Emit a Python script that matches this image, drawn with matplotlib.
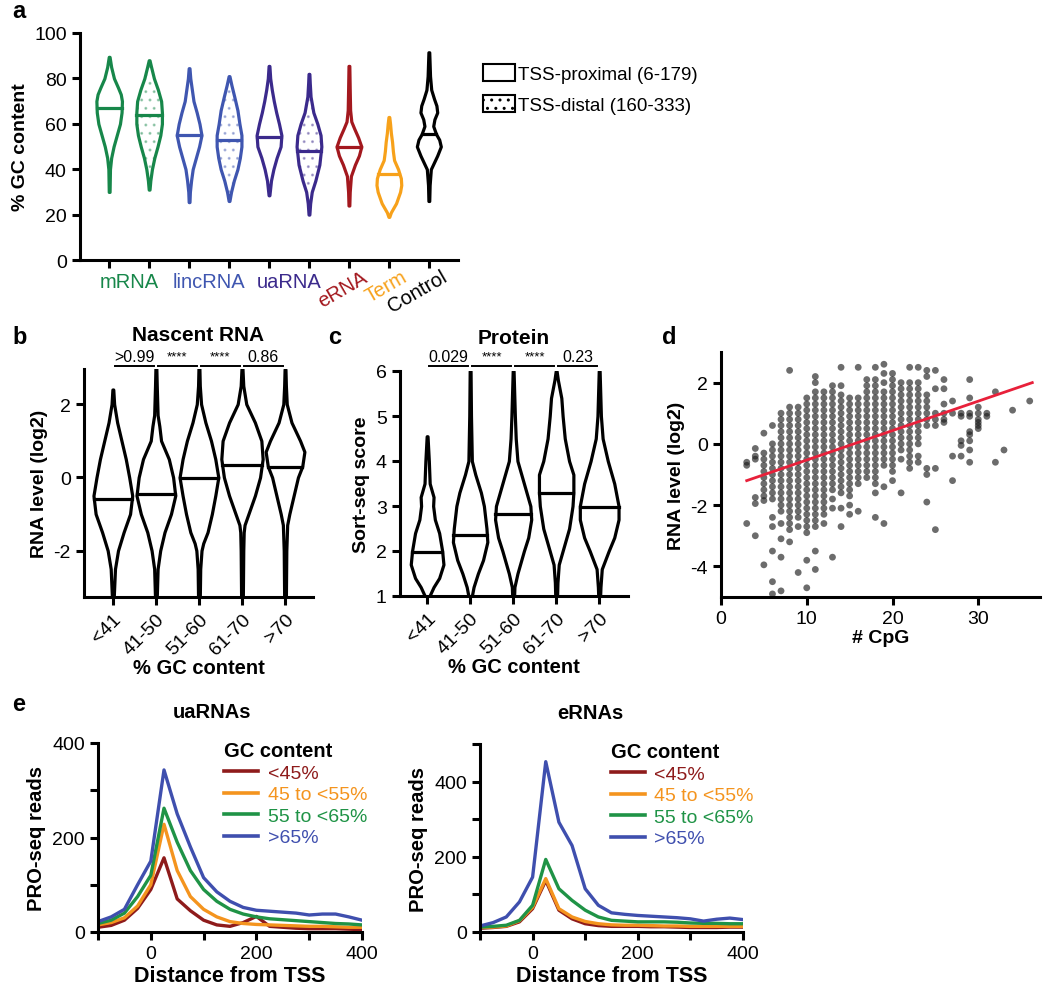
import matplotlib
matplotlib.use("Agg")
import matplotlib.pyplot as plt
import numpy as np
from matplotlib.patches import Patch

plt.rcParams['font.family'] = ['Liberation Sans', 'DejaVu Sans']
plt.rcParams['font.size'] = 13
plt.rcParams['axes.unicode_minus'] = False
plt.rcParams['axes.linewidth'] = 2.2
plt.rcParams['xtick.major.width'] = 2.2
plt.rcParams['ytick.major.width'] = 2.2
plt.rcParams['xtick.major.size'] = 6
plt.rcParams['ytick.major.size'] = 6
plt.rcParams['hatch.linewidth'] = 1.0

# ---------- panel a: GC content violins ----------
a_groups = ['mRNA', 'lincRNA', 'uaRNA', 'eRNA', 'Term', 'Control']
a_group_colors = ['#17874a', '#3f56b0', '#3b2a8c', '#a3181e', '#f7a11a', '#000000']
a_violin_group = [0, 0, 1, 1, 2, 2, 3, 4, 5]
a_distal = [False, True, False, True, False, True, False, False, False]
a_medians = [67, 64, 55, 53, 54, 48, 50, 38, 55.5]
a_prof_y = [
    [30, 40, 45, 50, 55, 60, 65, 70, 73, 76, 80, 85, 89.5],
    [31, 35, 40, 45, 50, 55, 60, 65, 70, 75, 80, 85, 88],
    [25.5, 30, 35, 40, 45, 50, 55, 60, 65, 70, 75, 80, 84.5],
    [26, 30, 35, 40, 45, 50, 55, 60, 66, 72, 77, 81],
    [28.5, 35, 40, 45, 50, 55, 60, 65, 70, 75, 80, 85.5],
    [20, 25, 30, 35, 42, 50, 55, 60, 65, 72, 78, 82],
    [24, 30, 37, 42, 46, 50, 54, 58, 61, 66, 75, 85.5],
    [19, 21, 25, 30, 33, 36, 40, 44, 48, 52, 56, 60, 63],
    [26, 33, 40, 43, 46, 50, 53, 55.5, 59, 62, 65, 68, 71, 75, 81, 91.5],
]
a_prof_w = [
    [0.01, 0.02, 0.05, 0.11, 0.19, 0.27, 0.31, 0.32, 0.29, 0.22, 0.12, 0.05, 0.01],
    [0.01, 0.03, 0.07, 0.13, 0.21, 0.28, 0.32, 0.32, 0.30, 0.22, 0.12, 0.05, 0.01],
    [0.01, 0.02, 0.05, 0.09, 0.17, 0.25, 0.31, 0.26, 0.19, 0.11, 0.07, 0.03, 0.01],
    [0.01, 0.05, 0.12, 0.21, 0.27, 0.31, 0.31, 0.26, 0.21, 0.13, 0.06, 0.01],
    [0.01, 0.05, 0.11, 0.19, 0.29, 0.31, 0.25, 0.18, 0.12, 0.07, 0.03, 0.01],
    [0.01, 0.03, 0.07, 0.16, 0.26, 0.31, 0.29, 0.21, 0.11, 0.04, 0.02, 0.01],
    [0.01, 0.02, 0.05, 0.15, 0.25, 0.31, 0.23, 0.13, 0.06, 0.03, 0.02, 0.01],
    [0.01, 0.05, 0.18, 0.28, 0.31, 0.30, 0.23, 0.13, 0.10, 0.08, 0.05, 0.03, 0.01],
    [0.01, 0.02, 0.05, 0.13, 0.21, 0.30, 0.26, 0.18, 0.11, 0.14, 0.21, 0.19, 0.13, 0.06, 0.03, 0.01],
]

# ---------- panels b, c: violins by GC bin ----------
gc_bins = ['<41', '41-50', '51-60', '61-70', '>70']
b_medians = [-0.58, -0.45, -0.03, 0.35, 0.28]
b_prof_y = [
    [-3.3, -2.5, -2.0, -1.5, -1.0, -0.5, 0.0, 0.5, 1.0, 1.5, 2.0, 2.4],
    [-3.3, -2.5, -2.0, -1.5, -1.0, -0.5, 0.0, 0.5, 1.0, 1.4, 1.7, 2.5, 3.0],
    [-3.3, -2.5, -2.0, -1.8, -1.5, -1.0, -0.5, 0.0, 0.5, 1.0, 1.5, 2.0, 2.5, 3.0],
    [-3.3, -2.0, -1.5, -1.3, -1.0, -0.5, 0.0, 0.5, 1.0, 1.5, 2.0, 2.5, 3.0],
    [-3.3, -2.0, -1.3, -1.0, -0.5, 0.0, 0.3, 0.7, 1.0, 1.5, 2.0, 2.5, 2.95],
]
b_prof_w = [
    [0.02, 0.05, 0.12, 0.25, 0.40, 0.45, 0.38, 0.30, 0.20, 0.10, 0.03, 0.01],
    [0.02, 0.04, 0.10, 0.20, 0.35, 0.45, 0.40, 0.30, 0.12, 0.08, 0.04, 0.02, 0.01],
    [0.02, 0.03, 0.06, 0.10, 0.20, 0.30, 0.38, 0.45, 0.38, 0.28, 0.15, 0.05, 0.02, 0.01],
    [0.02, 0.03, 0.04, 0.06, 0.15, 0.30, 0.42, 0.48, 0.45, 0.30, 0.10, 0.03, 0.01],
    [0.02, 0.03, 0.05, 0.10, 0.20, 0.30, 0.40, 0.45, 0.35, 0.15, 0.04, 0.02, 0.01],
]
b_pvals = ['>0.99', '****', '****', '0.86']

c_medians = [1.98, 2.35, 2.83, 3.3, 2.98]
c_prof_y = [
    [0.95, 1.2, 1.4, 1.7, 2.0, 2.4, 2.7, 3.0, 3.2, 3.5, 4.0, 4.55],
    [0.95, 1.2, 1.5, 1.8, 2.2, 2.5, 3.0, 3.3, 3.7, 4.0, 5.0, 6.0],
    [0.95, 1.2, 1.5, 2.0, 2.3, 2.7, 3.0, 3.5, 4.0, 4.5, 5.0, 6.0],
    [0.95, 1.3, 1.7, 2.0, 2.5, 3.0, 3.3, 3.7, 4.0, 4.5, 5.0, 5.4, 5.8, 6.0],
    [0.95, 1.2, 1.6, 2.0, 2.3, 2.7, 3.0, 3.5, 4.0, 4.5, 5.0, 6.0],
]
c_prof_w = [
    [0.03, 0.15, 0.28, 0.38, 0.35, 0.28, 0.18, 0.14, 0.15, 0.06, 0.04, 0.01],
    [0.03, 0.08, 0.18, 0.30, 0.40, 0.38, 0.32, 0.25, 0.12, 0.04, 0.02, 0.01],
    [0.02, 0.03, 0.10, 0.25, 0.35, 0.42, 0.40, 0.25, 0.10, 0.06, 0.04, 0.01],
    [0.02, 0.03, 0.06, 0.15, 0.30, 0.38, 0.40, 0.40, 0.30, 0.20, 0.15, 0.12, 0.04, 0.01],
    [0.02, 0.03, 0.06, 0.22, 0.35, 0.45, 0.45, 0.35, 0.20, 0.08, 0.04, 0.01],
]
c_pvals = ['0.029', '****', '****', '0.23']

# ---------- panel d: RNA level vs # CpG ----------
rna_by_cpg = {
    3: [-0.6, -0.7, -2.6],
    4: [-0.15, -0.4, -0.5, -1.75, -1.95, -3.0],
    5: [0.35, -0.3, -0.5, -0.7, -0.9, -1.1, -1.3, -1.5, -1.7, -1.85, -3.95],
    6: [0.6, 0.0, -0.2, -0.4, -0.6, -0.8, -1.0, -1.2, -1.4, -1.6, -1.8, -2.4, -2.7, -3.5, -4.5, -4.9],
    7: [1.0, 0.8, 0.6, 0.4, 0.2, 0.0, -0.2, -0.4, -0.6, -0.8, -1.0, -1.2, -1.4, -1.6, -1.8, -2.0, -2.2,
        -2.6, -3.1, -3.7, -4.8],
    8: [2.4, 1.2, 1.0, 0.8, 0.6, 0.4, 0.2, 0.0, -0.2, -0.4, -0.6, -0.8, -1.0, -1.2, -1.4, -1.6, -1.8,
        -2.0, -2.2, -2.4, -2.6, -2.8, -3.2],
    9: [1.2, 1.0, 0.8, 0.6, 0.4, 0.2, 0.0, -0.2, -0.4, -0.6, -0.8, -1.0, -1.2, -1.4, -1.6, -1.8, -2.0,
        -2.2, -2.4, -2.7, -4.2],
    10: [1.5, 1.3, 1.1, 0.9, 0.7, 0.5, 0.3, 0.1, -0.1, -0.3, -0.5, -0.7, -0.9, -1.1, -1.3, -1.5, -1.7,
         -1.9, -2.1, -2.3, -2.5, -2.7, -2.9, -3.8, -4.7],
    11: [2.2, 2.0, 1.7, 1.5, 1.3, 1.1, 0.9, 0.7, 0.5, 0.3, 0.1, -0.1, -0.3, -0.5, -0.7, -0.9, -1.1, -1.3,
         -1.5, -1.7, -1.9, -2.1, -2.3, -2.5, -2.7, -3.5, -4.1],
    12: [1.7, 1.5, 1.3, 1.1, 0.9, 0.7, 0.5, 0.3, 0.1, -0.1, -0.3, -0.5, -0.7, -0.9, -1.1, -1.3, -1.5,
         -1.7, -1.9, -2.1, -2.3, -2.6],
    13: [1.9, 1.7, 1.5, 1.3, 1.1, 0.9, 0.7, 0.5, 0.3, 0.1, -0.1, -0.3, -0.5, -0.7, -0.9, -1.1, -1.3,
         -1.5, -1.8, -2.1, -3.7],
    14: [2.5, 1.9, 1.6, 1.4, 1.2, 1.0, 0.8, 0.6, 0.4, 0.2, 0.0, -0.2, -0.4, -0.6, -0.8, -1.0, -1.2,
         -1.4, -1.6, -2.1, -2.7],
    15: [1.5, 1.3, 1.1, 0.9, 0.7, 0.5, 0.3, 0.1, -0.1, -0.3, -0.5, -0.7, -0.9, -1.1, -1.3, -1.5, -1.7,
         -2.0, -2.3],
    16: [2.5, 1.5, 1.3, 1.1, 0.9, 0.7, 0.5, 0.3, 0.1, -0.1, -0.3, -0.5, -0.7, -0.9, -1.1, -1.3, -2.2],
    17: [2.1, 1.9, 1.7, 1.5, 1.3, 1.1, 0.9, 0.7, 0.5, 0.3, 0.1, -0.1, -0.3, -0.5, -0.7, -0.9, -1.1],
    18: [2.5, 2.1, 1.9, 1.7, 1.5, 1.3, 1.1, 0.9, 0.7, 0.5, 0.3, 0.1, -0.1, -0.3, -0.5, -0.7, -0.9,
         -1.1, -1.3, -1.6, -2.4],
    19: [2.6, 2.3, 2.0, 1.7, 1.5, 1.3, 1.1, 0.9, 0.7, 0.5, 0.3, 0.1, -0.1, -0.3, -0.5, -0.7, -1.4, -2.6],
    20: [2.3, 2.1, 1.9, 1.7, 1.5, 1.3, 1.1, 0.9, 0.7, 0.5, 0.3, 0.1, -0.1, -0.3, -0.5, -0.7, -0.9, -1.2],
    21: [2.0, 1.8, 1.6, 1.4, 1.2, 1.0, 0.8, 0.6, 0.4, 0.2, 0.0, -0.2, -0.5, -1.6],
    22: [2.5, 2.0, 1.8, 1.6, 1.4, 1.2, 1.0, 0.8, 0.6, 0.4, 0.2, 0.0, -0.2, -0.4, -0.6, -0.8],
    23: [2.5, 2.0, 1.8, 1.6, 1.4, 1.2, 1.0, 0.8, 0.6, 0.4, 0.2, 0.0, -0.4, -0.6],
    24: [2.4, 2.2, 1.6, 1.4, 1.2, 1.0, 0.8, 0.6, -0.8, -1.0, -1.9],
    25: [2.4, 1.8, 1.0, 0.8, 0.6, -0.8, -2.8],
    26: [2.1, 1.8, 1.3, 1.0, 0.8, 0.7],
    27: [1.4, 1.0, -0.4, -1.2],
    28: [1.0, 0.9, 0.1, -0.05, -0.4],
    29: [2.1, 1.5, 1.0, 0.9, 0.4, 0.3, 0.1, -0.2, -0.6],
    30: [1.2, 1.0, 0.8, 0.7, 0.6, 0.5],
    31: [1.0, 0.9],
    32: [1.7, -0.6],
    33: [-0.2],
    34: [1.1],
    36: [1.4],
}
fit_x = [3, 36.3]
fit_y = [-1.2, 2.0]

# ---------- panel e: PRO-seq profiles ----------
dist = [-100, -75, -50, -25, 0, 25, 50, 75, 100, 125, 150, 175, 200, 225, 250, 275, 300, 325, 350, 375, 400]
gc_groups = ['<45%', '45 to <55%', '55 to <65%', '>65%']
gc_colors = ['#8e1b1b', '#f4941e', '#1f9346', '#3f4fae']
ua_reads = [
    [10, 14, 25, 50, 90, 157, 70, 45, 25, 15, 12, 20, 33, 12, 10, 8, 7, 7, 7, 6, 5],
    [15, 20, 30, 55, 100, 228, 130, 75, 48, 32, 22, 18, 16, 15, 14, 13, 12, 12, 11, 10, 10],
    [18, 25, 40, 75, 120, 262, 190, 130, 90, 65, 48, 38, 32, 28, 26, 24, 22, 20, 18, 17, 15],
    [22, 32, 48, 100, 150, 343, 250, 180, 115, 85, 65, 52, 46, 44, 42, 40, 36, 38, 38, 32, 25],
]
e_reads = [
    [10, 12, 15, 27, 62, 137, 58, 35, 22, 17, 15, 15, 15, 14, 14, 13, 12, 12, 12, 13, 13],
    [12, 13, 16, 30, 66, 142, 62, 40, 28, 22, 19, 18, 18, 17, 16, 16, 15, 15, 15, 15, 15],
    [13, 15, 18, 31, 71, 193, 115, 84, 58, 40, 31, 29, 27, 27, 27, 26, 24, 23, 23, 22, 22],
    [16, 25, 40, 80, 146, 453, 292, 230, 115, 71, 51, 47, 44, 42, 40, 38, 35, 29, 34, 37, 33],
]

W, H = 1050, 995
fig = plt.figure(figsize=(W / 100, H / 100), dpi=100)


def px_axes(left, top, right, bottom):
    return fig.add_axes([left / W, 1 - bottom / H, (right - left) / W, (bottom - top) / H])


def style(ax):
    ax.spines['top'].set_visible(False)
    ax.spines['right'].set_visible(False)


def draw_violin(ax, pos, ys, ws, med, color, distal=False, lw=2.3):
    ys = np.array(ys)
    ws = np.array(ws)
    ax.fill_betweenx(ys, pos - ws, pos + ws, facecolor='white', edgecolor=color, lw=lw, zorder=2)
    if distal:
        ax.fill_betweenx(ys, pos - ws, pos + ws, facecolor='none', edgecolor=color, alpha=0.35,
                         hatch='..', lw=0, zorder=2)
    mw = np.interp(med, ys, ws)
    ax.plot([pos - mw, pos + mw], [med, med], color=color, lw=lw, zorder=3)


# panel a
ax = px_axes(80, 34, 458, 261)
style(ax)
for i in range(9):
    col = a_group_colors[a_violin_group[i]]
    draw_violin(ax, i, a_prof_y[i], a_prof_w[i], a_medians[i], col, a_distal[i])
ax.set_xlim(-0.73, 8.73)
ax.set_ylim(0, 100)
ax.set_yticks([0, 20, 40, 60, 80, 100])
ax.tick_params(labelsize=14)
ax.set_xticks(range(9))
ax.set_xticklabels([])
ax.set_ylabel('% GC content', fontweight='bold', fontsize=14, labelpad=4)
for g, xpos in zip(range(3), [0.5, 2.5, 4.5]):
    ax.text(xpos, -0.055, a_groups[g], color=a_group_colors[g], ha='center', va='top',
            fontsize=14.5, transform=ax.get_xaxis_transform())
for g, xpos in zip(range(3, 6), [6, 7, 8]):
    ax.text(xpos + 0.3, -0.03, a_groups[g], color=a_group_colors[g], ha='right', va='top',
            fontsize=14.5, rotation=30, rotation_mode='anchor', transform=ax.get_xaxis_transform())
handles = [Patch(facecolor='white', edgecolor='black', lw=1.5),
           Patch(facecolor='white', edgecolor='black', lw=1.5, hatch='..')]
fig.legend(handles, ['TSS-proximal (6-179)', 'TSS-distal (160-333)'], loc='upper left',
           bbox_to_anchor=(474 / W, 1 - 56 / H), frameon=False, fontsize=13.5,
           handlelength=1.7, handleheight=1.0, handletextpad=0.15, labelspacing=0.65, borderpad=0)


def gc_violin_panel(ax, prof_y, prof_w, medians, pvals, title, ylabel, line_y, label_y):
    style(ax)
    for i in range(5):
        draw_violin(ax, i, prof_y[i], prof_w[i], medians[i], 'black')
    ax.set_xticks(range(5))
    ax.set_xticklabels(gc_bins, rotation=45, ha='right', rotation_mode='anchor')
    ax.tick_params(labelsize=14)
    ax.set_xlabel('% GC content', fontweight='bold', fontsize=14.5, labelpad=0)
    ax.set_ylabel(ylabel, fontweight='bold', fontsize=14)
    for i, p in enumerate(pvals):
        ax.plot([i + 0.04, i + 0.96], [line_y, line_y], color='black', lw=1.4, clip_on=False)
        ax.text(i + 0.5, label_y, p, ha='center', va='center', fontsize=11.5 if '*' not in p else 9.5)
    ax.text(0.5, 1.15, title, ha='center', va='center', fontweight='bold', fontsize=15,
            transform=ax.transAxes)


ax = px_axes(84, 370, 313, 598)
ax.set_xlim(-0.67, 4.65)
ax.set_ylim(-3.27, 2.96)
ax.set_yticks([-2, 0, 2])
gc_violin_panel(ax, b_prof_y, b_prof_w, b_medians, b_pvals, 'Nascent RNA', 'RNA level (log2)', 3.05, 3.3)

ax = px_axes(400, 372, 628, 597)
ax.set_xlim(-0.63, 4.67)
ax.set_ylim(1, 6)
ax.set_yticks([1, 2, 3, 4, 5, 6])
gc_violin_panel(ax, c_prof_y, c_prof_w, c_medians, c_pvals, 'Protein', 'Sort-seq score', 6.11, 6.33)

# panel d
ax = px_axes(721, 353, 1040, 598)
style(ax)
for cpg, vals in rna_by_cpg.items():
    ax.scatter([cpg] * len(vals), vals, s=24, color='#1e1e1e', alpha=0.65, edgecolors='none', zorder=2)
ax.plot(fit_x, fit_y, color='#e8203a', lw=2, zorder=3)
ax.set_xlim(0, 37.2)
ax.set_ylim(-5, 3)
ax.set_xticks([0, 10, 20, 30])
ax.set_yticks([-4, -2, 0, 2])
ax.tick_params(labelsize=14)
ax.set_xlabel('# CpG', fontweight='bold', fontsize=14, labelpad=1)
ax.set_ylabel('RNA level (log2)', fontweight='bold', fontsize=14)

# panel e


def proseq_panel(ax, reads, title, ymax, title_x, leg_x):
    style(ax)
    for k in range(4):
        ax.plot(dist, reads[k], color=gc_colors[k], lw=2.4, label=gc_groups[k])
    ax.set_xlim(-100, 400)
    ax.set_ylim(0, ymax)
    ax.set_xticks(range(-100, 401, 100))
    ax.set_xticklabels(['', '0', '', '200', '', '400'])
    yt = list(range(0, ymax + 1, 100))
    ax.set_yticks(yt)
    ax.set_yticklabels([str(v) if v % 200 == 0 else '' for v in yt])
    ax.tick_params(labelsize=14)
    ax.set_xlabel('Distance from TSS', fontweight='bold', fontsize=15.5, labelpad=2)
    ax.set_ylabel('PRO-seq reads', fontweight='bold', fontsize=14.5)
    ax.text(title_x, 1.165, title, ha='center', va='center', fontweight='bold', fontsize=14.5,
            transform=ax.transAxes)
    leg = ax.legend(loc='upper left', bbox_to_anchor=(leg_x, 1.06), frameon=False, fontsize=14,
                    labelcolor='linecolor', handlelength=1.75, handletextpad=0.5,
                    labelspacing=0.2, borderpad=0, title='GC content', alignment='left',
                    title_fontproperties={'weight': 'bold', 'size': 14.5})
    for ln in leg.get_lines():
        ln.set_linewidth(2.6)


ax = px_axes(98, 744, 362, 933)
proseq_panel(ax, ua_reads, 'uaRNAs', 400, 0.43, 0.44)
ax = px_axes(480, 745, 743, 933)
proseq_panel(ax, e_reads, 'eRNAs', 500, 0.42, 0.46)

# panel letters
for letter, x, y in [('a', 12, 12), ('b', 12, 337), ('c', 328, 337), ('d', 662, 337), ('e', 12, 705)]:
    fig.text(x / W, 1 - y / H, letter, fontsize=17, fontweight='bold', ha='left', va='center')

fig.savefig('out.png', dpi=100)
